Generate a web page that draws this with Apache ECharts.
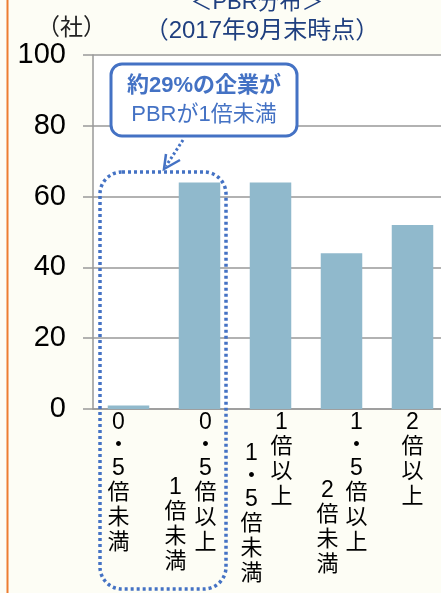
<!DOCTYPE html>
<html>
<head>
<meta charset="utf-8">
<script src="https://cdn.jsdelivr.net/npm/echarts@6/dist/echarts.min.js"></script>
<style>
  html, body { margin: 0; padding: 0; background: #fdfdf5; }
  #main { width: 441px; height: 593px; }
</style>
</head>
<body>
<div id="main"></div>
<script>
// PBR分布（2017年9月末時点）
const categories = ['0.5倍未満', '0.5倍以上1倍未満', '1倍以上1.5倍未満', '1.5倍以上2倍未満', '2倍以上']
const counts = [1, 64, 64, 44, 52] // 社数
const labelRight = ['0・5倍未満', '0・5倍以上', '1倍以上', '1・5倍以上', '2倍以上'] // 縦書き 1列目
const labelLeft = ['', '1倍未満', '1・5倍未満', '2倍未満', ''] // 縦書き 2列目
const yTicks = { min: 0, max: 100, interval: 20 }

// ラベル位置の調整（px）
const shiftRight = [-10, 6, 11, 15, 0]
const shiftLeft = [0, -24, -19, -14, 0]
const dropLeft = [0, 65, 31, 68, 0]

const CJK = '"Liberation Sans", "Noto Sans CJK JP", sans-serif'
const blue = '#4472c4'

function richFor(shifts, drops) {
  const rich = {}
  shifts.forEach(function (dx, i) {
    const pad = dx >= 0 ? [0, 0, 0, 2 * dx] : [0, -2 * dx, 0, 0]
    rich['h' + i] = { fontSize: 23, lineHeight: 23, padding: pad, fontFamily: CJK, color: '#000' }
    rich['f' + i] = { fontSize: 22, lineHeight: 25, padding: pad, fontFamily: CJK, color: '#000' }
    rich['s' + i] = { fontSize: 2, lineHeight: drops[i] || 1, fontFamily: CJK }
  })
  return rich
}

function vertical(text, i, drop) {
  if (!text) return ''
  const parts = text.split('').map(function (c) {
    const half = /[0-9・]/.test(c)
    return '{' + (half ? 'h' : 'f') + i + '|' + c + '}'
  })
  let s = parts.join('\n')
  if (drop) s = '{s' + i + '| }\n' + s
  return s
}

const myChart = echarts.init(document.getElementById('main'))

const option = {
  backgroundColor: '#fdfdf5',
  animation: false,
  title: [
    {
      text: '＜PBR分布＞',
      left: 252,
      top: -13,
      textAlign: 'center',
      textStyle: { fontSize: 22, fontWeight: 'normal', color: '#1f3f7f', fontFamily: CJK },
    },
    {
      text: '（2017年9月末時点）',
      left: 257,
      top: 14,
      textAlign: 'center',
      textStyle: { fontSize: 24, fontWeight: 'normal', color: '#1f3f7f', fontFamily: CJK },
    },
  ],
  grid: {
    left: 93,
    top: 55,
    width: 355,
    height: 354,
    outerBoundsMode: 'none',
    show: true,
    backgroundColor: '#ffffff',
    borderWidth: 0,
  },
  xAxis: [
    {
      type: 'category',
      data: categories,
      position: 'bottom',
      axisLine: { lineStyle: { color: '#999', width: 1.5 } },
      axisTick: { show: false },
      axisLabel: {
        interval: 0,
        margin: 2,
        formatter: function (v, i) { return vertical(labelRight[i], i, 0) },
        rich: richFor(shiftRight, []),
      },
    },
    {
      type: 'category',
      data: categories,
      position: 'bottom',
      axisLine: { show: false },
      axisTick: { show: false },
      axisLabel: {
        interval: 0,
        margin: 2,
        formatter: function (v, i) { return vertical(labelLeft[i], i, dropLeft[i]) },
        rich: richFor(shiftLeft, dropLeft),
      },
    },
  ],
  yAxis: {
    type: 'value',
    min: yTicks.min,
    max: yTicks.max,
    interval: yTicks.interval,
    name: '（社）',
    nameLocation: 'end',
    nameGap: 15,
    nameTextStyle: { fontSize: 23, color: '#222', fontFamily: CJK, align: 'center', padding: [0, 43, 0, 0] },
    axisLine: { show: true, lineStyle: { color: '#999', width: 1.5 } },
    axisTick: { show: true, length: 10, lineStyle: { color: '#999', width: 1.5 } },
    axisLabel: { margin: 27, fontSize: 29, color: '#000', fontFamily: '"Liberation Sans", Arial, sans-serif' },
    splitLine: { lineStyle: { color: '#999', width: 1.5 } },
  },
  series: [
    {
      type: 'bar',
      data: counts,
      barWidth: 41.5,
      itemStyle: { color: '#90b9cc' },
    },
  ],
  graphic: [
    // 左端のオレンジ線
    {
      type: 'line',
      shape: { x1: 7.5, y1: 0, x2: 7.5, y2: 593 },
      style: { stroke: '#ed7d31', lineWidth: 2 },
      z: 10,
    },
    // 点線の囲み
    {
      type: 'rect',
      shape: { x: 100, y: 172, width: 126, height: 417, r: 22 },
      style: { fill: null, stroke: blue, lineWidth: 3.5, lineDash: [3, 3] },
      z: 10,
    },
    // 吹き出し
    {
      type: 'rect',
      shape: { x: 111, y: 64, width: 186, height: 72, r: 11 },
      style: { fill: '#fff', stroke: blue, lineWidth: 3 },
      z: 10,
    },
    {
      type: 'text',
      x: 204,
      y: 86,
      style: {
        text: '約29%の企業が',
        fill: blue,
        font: 'bold 22px "Liberation Sans", "Noto Sans CJK JP", sans-serif',
        textAlign: 'center',
        textVerticalAlign: 'middle',
      },
      z: 11,
    },
    {
      type: 'text',
      x: 204,
      y: 115,
      style: {
        text: 'PBRが1倍未満',
        fill: blue,
        font: '22px "Liberation Sans", "Noto Sans CJK JP", sans-serif',
        textAlign: 'center',
        textVerticalAlign: 'middle',
      },
      z: 11,
    },
    // 矢印
    {
      type: 'line',
      shape: { x1: 183, y1: 140, x2: 166, y2: 166 },
      style: { stroke: blue, lineWidth: 3, lineDash: [2.5, 2.5] },
      z: 10,
    },
    {
      type: 'polyline',
      shape: { points: [[166, 154], [164, 169], [180, 160]] },
      style: { stroke: blue, lineWidth: 2.5, fill: null },
      z: 10,
    },
  ],
}

myChart.setOption(option)
</script>
</body>
</html>
